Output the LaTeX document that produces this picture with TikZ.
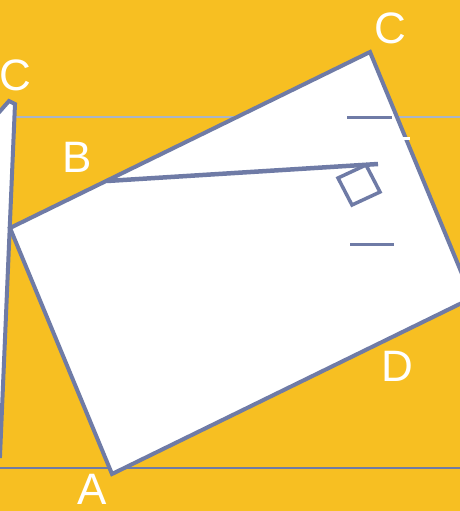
\documentclass[tikz,border=0pt]{standalone}
\usepackage{fontspec}
\setmainfont{Liberation Sans}
\usepackage{xcolor}
\usepackage{tikz}
\definecolor{bgyellow}{RGB}{247, 191, 34}
\definecolor{slate}{RGB}{111, 123, 166}
\definecolor{lslate}{RGB}{170, 180, 200}
\begin{document}
\begin{tikzpicture}[x = 1pt, y = -1pt,
  lab/.style = {text = white, font = \fontsize{44}{50}\selectfont, inner sep = 0pt},
  edgeline/.style = {draw = slate, line width = 4pt, line join = miter}]
			\useasboundingbox (0,0) rectangle (460,511);
			\clip (0,0) rectangle (460,511);
			\fill[bgyellow] (0,0) rectangle (460,511);
			% guide lines
			\coordinate (g1) at (0,117);
			\coordinate (g2) at (460,117);
			\coordinate (h1) at (0,468);
			\coordinate (h2) at (460,468);
			\draw[lslate, line width = 2pt] (g1) -- (g2);
			\draw[slate, line width = 2pt] (h1) -- (h2);
			% left sliver
			\coordinate (s1) at (-6,118);
			\coordinate (s2) at (9,101);
			\coordinate (s3) at (15,104);
			\coordinate (s4) at (0,456);
			\coordinate (s5) at (-6,456);
			\draw[edgeline, fill = white] (s1) -- (s2) -- (s3) -- (s4) -- (s5) -- cycle;
			% main rectangle
			\coordinate (a) at (112,474);
			\coordinate (l) at (10,228);
			\coordinate (c) at (370,52);
			\coordinate (r) at (472,298);
			\draw[edgeline, fill = white] (a) -- (l) -- (c) -- (r) -- cycle;
			\coordinate (b) at (107,181);
			\coordinate (e) at (378,164);
			\draw[slate, line width = 4.5pt] (b) -- (e);
			\coordinate (q1) at (338,178);
			\coordinate (q2) at (366,165);
			\coordinate (q3) at (380,192);
			\coordinate (q4) at (352,205);
			\draw[slate, line width = 3.5pt] (q1) -- (q2) -- (q3) -- (q4) -- cycle;
			% ticks
			\coordinate (t1) at (347,117);
			\coordinate (t2) at (392,117);
			\coordinate (t3) at (350,244);
			\coordinate (t4) at (394,244);
			\coordinate (t5) at (403,138);
			\coordinate (t6) at (410,138);
			\draw[slate, line width = 3pt] (t1) -- (t2);
			\draw[slate, line width = 3pt] (t3) -- (t4);
			\draw[white, line width = 3pt] (t5) -- (t6);
			% labels
			\node (lc) at (390,28) [lab] {C};
			\node (lc2) at (15,75) [lab] {C};
			\node (lb) at (77,157) [lab] {B};
			\node (ld) at (397,366) [lab] {D};
			\node (la) at (92,489) [lab] {A};
\end{tikzpicture}
\end{document}
